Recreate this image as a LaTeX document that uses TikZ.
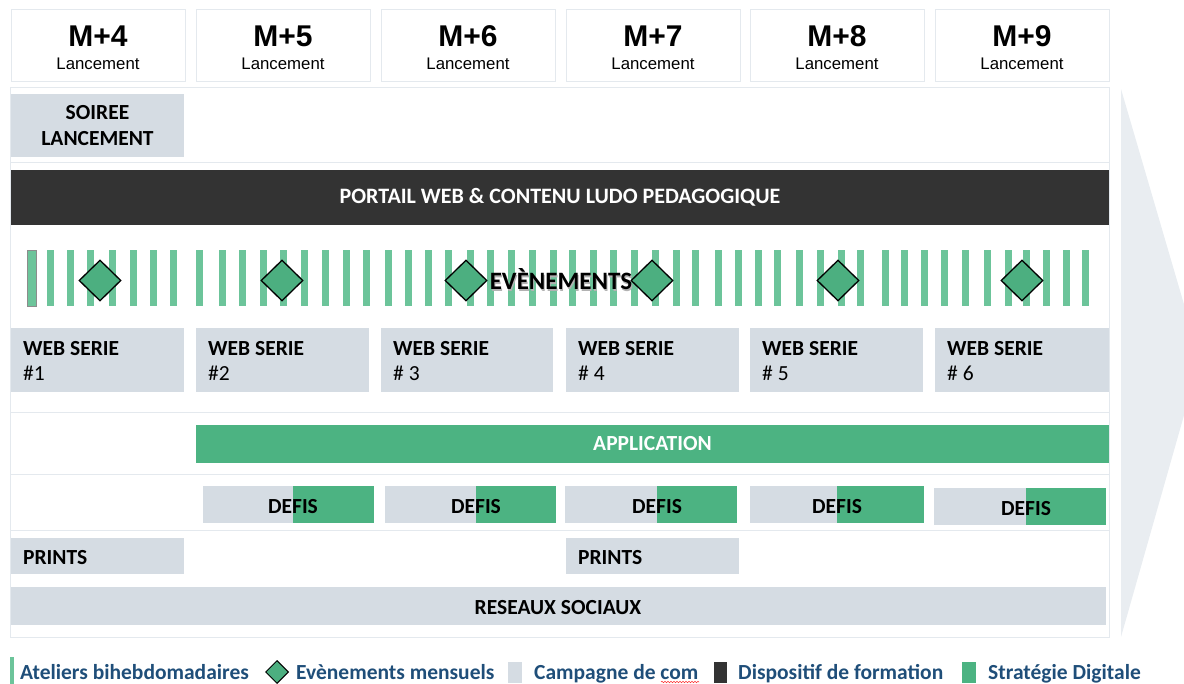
\documentclass[tikz,border=0pt]{standalone}
\usepackage{fontspec}
\setmainfont{Carlito}
\newfontfamily\arialfont{Liberation Sans}
\usetikzlibrary{shapes.geometric,decorations.pathmorphing}
\definecolor{cgrey}{HTML}{D5DCE3}
\definecolor{cdark}{HTML}{333333}
\definecolor{cgreen}{HTML}{4CB382}
\definecolor{cstripe}{HTML}{6CC49A}
\definecolor{cdiam}{HTML}{4CAF80}
\definecolor{cline}{HTML}{E4E9EE}
\definecolor{carrow}{HTML}{E9EDF1}
\definecolor{clegend}{HTML}{1F4E79}
\tikzset{
  blk/.style={anchor=north west, inner sep=0pt, outer sep=0pt, draw=none},
  greybox/.style={blk, fill=cgrey},
  bfont/.style={font=\fontsize{21.5}{26}\selectfont\bfseries},
  lbl/.style={bfont, inner sep=0pt, text=black, anchor=base west},
  clbl/.style={bfont, inner sep=0pt, text=black, anchor=base},
  hdrbox/.style={blk, fill=white, draw=cline, line width=1pt, minimum width=174pt, minimum height=72pt},
  stripe/.style={blk, fill=cstripe, minimum width=7pt, minimum height=56pt},
  diam/.style={diamond, fill=cdiam, draw=black, line width=1.3pt, minimum width=42pt, minimum height=41pt, inner sep=0pt},
  leg/.style={bfont, text=clegend, anchor=base west, inner sep=0pt},
  sepline/.style={draw=cline, line width=1pt},
}
\begin{document}
\begin{tikzpicture}[x=1pt,y=-1pt]
\useasboundingbox (0,0) rectangle (1184,684);
% background arrow
\fill[carrow] (1121,89) -- (1200,359) -- (1121,637) -- cycle;
% month headers
\foreach \m/\x in {4/11,5/196,6/381,7/566,8/750,9/935}{
  \node[hdrbox] (h\m) at (\x,10) {};
  \node[font=\arialfont\bfseries\fontsize{30}{30}\selectfont, anchor=base, inner sep=0pt] (hm\m) at (\x+87,47) {M+\m};
  \node[font=\arialfont\fontsize{16.8}{17}\selectfont, anchor=base, inner sep=0pt] (hl\m) at (\x+87,70) {Lancement};
}
% main frame
\node[blk, fill=white, draw=cline, line width=1pt, minimum width=1099pt, minimum height=549pt] (frame) at (10,88) {};
\foreach \y in {163,413,475,530}{\draw[sepline] (10,\y) -- (1109,\y);}
% soiree
\node[greybox, minimum width=173pt, minimum height=63pt, bfont, align=center] (soiree) at (11,94) {SOIREE\\LANCEMENT};
% portail
\node[blk, fill=cdark, minimum width=1098pt, minimum height=55pt, text=white, font=\fontsize{22}{26}\selectfont\bfseries] (portail) at (11,170) {PORTAIL WEB \& CONTENU LUDO PEDAGOGIQUE};
% stripes
\node[stripe, minimum width=9pt, draw=black!45, line width=0.8pt] (s27) at (27,250) {};
\foreach \x in {47,67,87,109,130,150,170,196,219,239,260,280,301,322,343,363,385,405,425,445,467,487,508,529,550,569,590,610,631,652,673,692,715,735,755,774,796,817,838,857,882,901,921,941,962,984,1005,1023,1043,1063,1082}{
  \node[stripe] (s\x) at (\x,250) {};
}
% diamonds
\foreach \i/\x in {1/100,2/282,3/466,4/652,5/838,6/1022}{
  \node[diam] (d\i) at (\x,280.5) {};
}
\node[font=\fontsize{25}{25}\selectfont\bfseries, text=black!30, anchor=base, inner sep=0pt] (evtsh) at (562,291.2) {EVÈNEMENTS};
\node[font=\fontsize{25}{25}\selectfont\bfseries, text=black, anchor=base, inner sep=0pt] (evt) at (561,290) {EVÈNEMENTS};
% web series
\foreach \i/\x/\w/\t in {1/11/173/\#1,2/196/173/\#2,3/381/172/\# 3,4/566/173/\# 4,5/750/173/\# 5,6/935/174/\# 6}{
  \node[greybox, minimum width=\w pt, minimum height=64pt] (ws\i) at (\x,328) {};
  \node[lbl] (wst\i) at (\x+12,356) {WEB SERIE};
  \node[lbl, font=\fontsize{21.5}{26}\selectfont\mdseries] (wsn\i) at (\x+12,381) {\t};
}
% application
\node[blk, fill=cgreen, minimum width=913pt, minimum height=38pt, text=white, bfont] (app) at (196,425) {APPLICATION};
% defis
\foreach \i/\x/\g/\e/\y in {1/203/293/374/486,2/385/476/556/486,3/565/657/737/486,4/750/837/924/486,5/934/1026/1106/488}{
  \pgfmathsetmacro{\wa}{\e-\x}
  \pgfmathsetmacro{\wb}{\e-\g}
  \node[greybox, minimum width=\wa pt, minimum height=37pt] (df\i) at (\x,\y) {};
  \node[blk, fill=cgreen, minimum width=\wb pt, minimum height=37pt] (dg\i) at (\g,\y) {};
  \node[clbl] (dt\i) at (\g,\y+27) {DEFIS};
}
% prints
\node[greybox, minimum width=173pt, minimum height=36pt] (pr1) at (11,538) {};
\node[lbl] (prt1) at (23,564) {PRINTS};
\node[greybox, minimum width=173pt, minimum height=36pt] (pr2) at (566,538) {};
\node[lbl] (prt2) at (578,564) {PRINTS};
% reseaux
\node[greybox, minimum width=1095pt, minimum height=38pt] (rs) at (11,587) {};
\node[clbl] (rst) at (558,614) {RESEAUX SOCIAUX};
% legend
\node[blk, fill=cstripe, minimum width=4pt, minimum height=27pt] (lg1) at (10,657) {};
\node[leg] (lt1) at (20,679) {Ateliers bihebdomadaires};
\node[diam, minimum width=23pt, minimum height=23pt, line width=1pt] (lg2) at (277,672) {};
\node[leg] (lt2) at (296,679) {Evènements mensuels};
\node[greybox, minimum width=14pt, minimum height=21pt] (lg3) at (508,662) {};
\node[leg] (lt3) at (534,679) {Campagne de com};
\draw[red!80, line width=0.6pt, decorate, decoration={snake, amplitude=0.7pt, segment length=3pt}] (661,682) -- (699,682);
\node[blk, fill=cdark, minimum width=13pt, minimum height=21pt] (lg4) at (714,662) {};
\node[leg] (lt4) at (738,679) {Dispositif de formation};
\node[blk, fill=cgreen, minimum width=14pt, minimum height=21pt] (lg5) at (962,662) {};
\node[leg] (lt5) at (988,679) {Stratégie Digitale};
\end{tikzpicture}
\end{document}
